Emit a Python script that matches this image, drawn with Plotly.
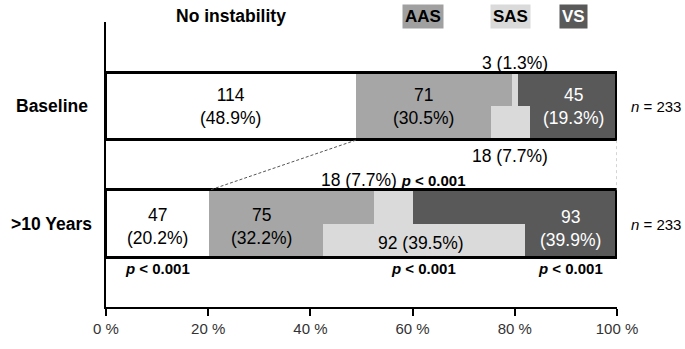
import plotly.graph_objects as go

# ---------------- data ----------------
rows = ["Baseline", ">10 Years"]
categories = ["No instability", "AAS", "SAS", "VS"]

# percent widths of the segments in the upper and lower half of each bar
baseline_top = [48.9, 30.5, 1.3, 19.3]
baseline_bottom = [48.9, 26.4, 7.7, 17.0]
years10_top = [20.2, 32.2, 7.7, 39.9]
years10_bottom = [20.2, 22.2, 39.5, 18.1]

baseline_counts = [114, 71, 3, 45]
baseline_sas_sub = 18
years10_counts = [47, 75, 18, 93]
years10_sas_sub = 92
n_total = [233, 233]
x_ticks = [0, 20, 40, 60, 80, 100]
x_ticktext = ["0 %", "20 %", "40 %", "60 %", "80 %", "100 %"]

colors = ["#ffffff", "#a6a6a6", "#dadada", "#595959"]
FONT = "Arial, Liberation Sans, sans-serif"

row_pos = {"Baseline": 1.0, ">10 Years": 0.0}
H = 0.574  # bar thickness in axis units

fig = go.Figure()


def starts(widths):
    s, out = 0.0, []
    for w in widths:
        out.append(s)
        s += w
    return out


def add_row(y, top, bottom):
    for widths, sign in ((top, 1), (bottom, -1)):
        b = starts(widths)
        for i, w in enumerate(widths):
            fig.add_trace(go.Bar(
                orientation="h", y=[y + sign * H / 4], x=[w], base=[b[i]],
                width=[H / 2], marker=dict(color=colors[i], line=dict(width=0)),
                showlegend=False, hoverinfo="skip"))
    # outline
    fig.add_trace(go.Bar(
        orientation="h", y=[y], x=[sum(top)], base=[0], width=[H],
        marker=dict(color="rgba(0,0,0,0)", line=dict(color="black", width=3)),
        showlegend=False, hoverinfo="skip"))


add_row(row_pos["Baseline"], baseline_top, baseline_bottom)
add_row(row_pos[">10 Years"], years10_top, years10_bottom)

# connector lines
yb = row_pos["Baseline"] - H / 2
yt = row_pos[">10 Years"] + H / 2
fig.add_trace(go.Scatter(x=[baseline_top[0], years10_top[0]], y=[yb, yt], mode="lines",
                         line=dict(color="#555555", width=1, dash="3px,2px"),
                         showlegend=False, hoverinfo="skip"))
fig.add_trace(go.Scatter(x=[sum(baseline_top), sum(years10_top)], y=[yb, yt], mode="lines",
                         line=dict(color="#aaaaaa", width=1, dash="dot"),
                         showlegend=False, hoverinfo="skip"))

ann = []


def center(widths, i):
    return starts(widths)[i] + widths[i] / 2


def lbl(x, y, text, size=17.5, color="black", xanchor="center", xref="x", yref="y"):
    ann.append(dict(x=x, y=y, xref=xref, yref=yref, text=text, showarrow=False,
                    xanchor=xanchor, yanchor="middle",
                    font=dict(family=FONT, size=size, color=color)))


def pct(c):
    return f"{c / n_total[0] * 100:.1f}%"


yB = row_pos["Baseline"]
yY = row_pos[">10 Years"]

# inside labels baseline
lbl(center(baseline_bottom, 0), yB, f"{baseline_counts[0]}<br>({pct(baseline_counts[0])})")
lbl(center(baseline_bottom, 1), yB, f"{baseline_counts[1]}<br>({pct(baseline_counts[1])})")
lbl(center(baseline_bottom, 3), yB, f"{baseline_counts[3]}<br>({pct(baseline_counts[3])})", color="white")
lbl(center(baseline_top, 2), yB + 0.37, f"{baseline_counts[2]} ({pct(baseline_counts[2])})")
lbl(center(baseline_bottom, 2), yB - 0.422, f"{baseline_sas_sub} ({pct(baseline_sas_sub)})")

# inside labels >10 years
lbl(center(years10_bottom, 0), yY - 0.02, f"{years10_counts[0]}<br>({pct(years10_counts[0])})")
lbl(center(years10_bottom, 1) - 0.9, yY - 0.02, f"{years10_counts[1]}<br>({pct(years10_counts[1])})")
lbl(center(years10_bottom, 2) - 0.6, yY - H / 4 - 0.02, f"{years10_sas_sub} ({pct(years10_sas_sub)})")
lbl(center(years10_bottom, 3), yY - 0.04, f"{years10_counts[3]}<br>({pct(years10_counts[3])})", color="white")
lbl(center(years10_top, 2), yY + 0.376,
    f"{years10_counts[2]} ({pct(years10_counts[2])}) "
    "<span style='font-size:15px'><b><i>p</i> &lt; 0.001</b></span>")

# p-values below >10 years
for i in (0, 2, 3):
    lbl(center(years10_bottom, i), yY - 0.376, "<b><i>p</i> &lt; 0.001</b>", size=15)

# n labels (right of the plot area)
for r, n in zip(rows, n_total):
    lbl(1.0235, row_pos[r], f"<i>n</i> = {n}", size=15, xanchor="left", xref="paper")

# row labels
for r in rows:
    lbl(-0.106, row_pos[r], f"<b>{r}</b>", size=17.5, xref="paper")

# header / legend
hy = 1.021
ann.append(dict(x=center(baseline_bottom, 0), y=hy, xref="x", yref="paper",
                text="<b>No instability</b>", showarrow=False, yanchor="middle",
                font=dict(family=FONT, size=17.5, color="black")))
for i, txtcol in ((1, "black"), (2, "black"), (3, "white")):
    ann.append(dict(x=center(baseline_bottom, i), y=hy, xref="x", yref="paper",
                    text=f"<b>{categories[i]}</b>", showarrow=False, yanchor="middle",
                    bgcolor="#a0a0a0" if i == 1 else colors[i], borderpad=2,
                    font=dict(family=FONT, size=17, color=txtcol)))

fig.update_layout(
    width=685, height=349,
    margin=dict(l=106, r=68, t=22, b=40),
    paper_bgcolor="white", plot_bgcolor="white",
    barmode="overlay", bargap=0,
    annotations=ann,
    xaxis=dict(range=[0, 100], tickmode="array", tickvals=x_ticks, ticktext=x_ticktext,
               showline=True, linecolor="black", linewidth=1.5,
               ticks="outside", ticklen=7, tickwidth=1.5, tickcolor="black",
               showgrid=False, zeroline=False,
               tickfont=dict(family=FONT, size=15, color="#333")),
    yaxis=dict(range=[-0.705, 1.717], showline=True, linecolor="black", linewidth=1.5,
               showticklabels=False, ticks="", showgrid=False, zeroline=False),
)

fig.write_html("out.html", config={"displayModeBar": False},
               post_script="document.body.style.margin='0';document.body.style.overflow='hidden';")
